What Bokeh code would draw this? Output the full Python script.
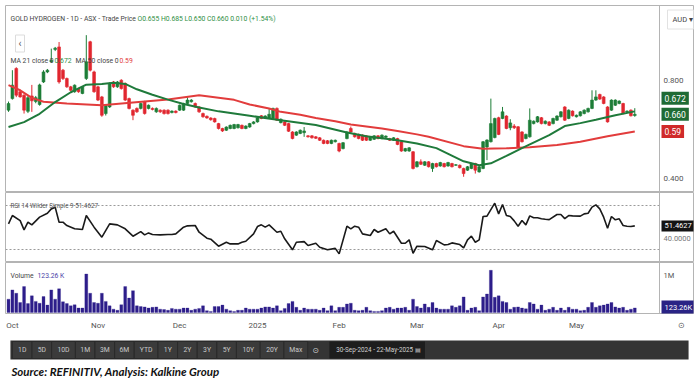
from bokeh.plotting import figure
from bokeh.layouts import column
from bokeh.models import ColumnDataSource, Range1d, Span, Label, FixedTicker
from bokeh.core.properties import value
from bokeh.embed import file_html
from bokeh.resources import INLINE

# ---------------- data ----------------
opens = [0.677, 0.724, 0.847, 0.752, 0.738, 0.672, 0.735, 0.712, 0.700, 0.792,
         0.833, 0.875, 0.925, 0.935, 0.840, 0.806, 0.772, 0.752, 0.765, 0.745,
         0.806, 0.956, 0.833, 0.772, 0.731, 0.663, 0.690, 0.792, 0.772, 0.799,
         0.786, 0.724, 0.677, 0.684, 0.684, 0.711, 0.684, 0.684, 0.670, 0.677,
         0.677, 0.677, 0.667, 0.673, 0.677, 0.677, 0.704, 0.711, 0.704, 0.690,
         0.663, 0.652, 0.645, 0.643, 0.622,
         0.602, 0.595, 0.602, 0.602, 0.605, 0.615, 0.602, 0.608, 0.622, 0.629,
         0.654, 0.645, 0.645, 0.643, 0.684, 0.626, 0.629, 0.622, 0.588, 0.575,
         0.582, 0.585, 0.572, 0.572, 0.568, 0.564, 0.554, 0.552, 0.541, 0.548,
         0.541, 0.520, 0.561, 0.602, 0.582, 0.578, 0.575, 0.572, 0.554, 0.558,
         0.572, 0.561, 0.566, 0.561, 0.554, 0.561, 0.548, 0.510, 0.510, 0.507,
         0.446, 0.466, 0.452, 0.466, 0.439,
         0.459, 0.449, 0.459, 0.449, 0.459, 0.452, 0.452, 0.439, 0.432, 0.439,
         0.459, 0.425, 0.439, 0.527, 0.548, 0.565, 0.646, 0.643, 0.653, 0.605,
         0.612, 0.609, 0.588, 0.561, 0.568, 0.622, 0.629, 0.646, 0.622, 0.629,
         0.622, 0.636, 0.650, 0.690, 0.643, 0.673, 0.650, 0.654, 0.663, 0.670,
         0.684, 0.718, 0.741, 0.731, 0.690, 0.677, 0.697, 0.704, 0.704, 0.670,
         0.677, 0.655]
highs = [0.712, 0.840, 0.852, 0.760, 0.742, 0.735, 0.780, 0.735, 0.785, 0.840,
         0.845, 0.928, 0.935, 0.955, 0.845, 0.810, 0.776, 0.782, 0.768, 0.775,
         0.983, 0.960, 0.838, 0.776, 0.735, 0.700, 0.790, 0.796, 0.796, 0.803,
         0.790, 0.728, 0.680, 0.688, 0.708, 0.715, 0.700, 0.688, 0.688, 0.680,
         0.680, 0.680, 0.676, 0.676, 0.700, 0.707, 0.730, 0.722, 0.708, 0.694,
         0.667, 0.655, 0.648, 0.646, 0.625,
         0.605, 0.611, 0.618, 0.621, 0.621, 0.618, 0.615, 0.625, 0.632, 0.648,
         0.657, 0.656, 0.684, 0.687, 0.688, 0.643, 0.632, 0.625, 0.591, 0.591,
         0.598, 0.608, 0.575, 0.575, 0.571, 0.567, 0.557, 0.555, 0.557, 0.557,
         0.544, 0.547, 0.591, 0.610, 0.585, 0.581, 0.578, 0.575, 0.571, 0.575,
         0.575, 0.578, 0.574, 0.564, 0.567, 0.564, 0.551, 0.523, 0.526, 0.510,
         0.469, 0.476, 0.469, 0.469, 0.462,
         0.462, 0.466, 0.462, 0.466, 0.462, 0.457, 0.455, 0.442, 0.449, 0.462,
         0.462, 0.449, 0.551, 0.558, 0.724, 0.646, 0.650, 0.690, 0.656, 0.640,
         0.620, 0.612, 0.591, 0.581, 0.684, 0.635, 0.653, 0.649, 0.635, 0.632,
         0.646, 0.656, 0.673, 0.693, 0.680, 0.676, 0.659, 0.673, 0.680, 0.687,
         0.758, 0.758, 0.744, 0.734, 0.693, 0.721, 0.721, 0.717, 0.707, 0.676,
         0.680, 0.685]
lows = [0.670, 0.720, 0.730, 0.728, 0.663, 0.665, 0.670, 0.705, 0.695, 0.788,
        0.828, 0.870, 0.918, 0.785, 0.800, 0.768, 0.754, 0.748, 0.748, 0.742,
        0.800, 0.835, 0.748, 0.714, 0.650, 0.655, 0.686, 0.768, 0.768, 0.761,
        0.714, 0.680, 0.636, 0.666, 0.680, 0.659, 0.680, 0.676, 0.666, 0.666,
        0.659, 0.659, 0.664, 0.664, 0.674, 0.674, 0.700, 0.708, 0.686, 0.666,
        0.646, 0.642, 0.634, 0.626, 0.598,
        0.588, 0.592, 0.599, 0.599, 0.602, 0.599, 0.599, 0.605, 0.619, 0.626,
        0.640, 0.642, 0.642, 0.640, 0.633, 0.623, 0.612, 0.588, 0.558, 0.572,
        0.579, 0.568, 0.565, 0.561, 0.559, 0.551, 0.538, 0.538, 0.538, 0.545,
        0.505, 0.517, 0.558, 0.585, 0.565, 0.558, 0.551, 0.551, 0.551, 0.555,
        0.558, 0.558, 0.563, 0.551, 0.551, 0.534, 0.507, 0.507, 0.507, 0.435,
        0.443, 0.453, 0.449, 0.443, 0.425,
        0.443, 0.446, 0.443, 0.446, 0.443, 0.449, 0.439, 0.405, 0.429, 0.436,
        0.418, 0.422, 0.436, 0.473, 0.545, 0.562, 0.575, 0.640, 0.599, 0.595,
        0.600, 0.524, 0.545, 0.558, 0.565, 0.619, 0.626, 0.619, 0.619, 0.612,
        0.619, 0.633, 0.647, 0.633, 0.640, 0.651, 0.647, 0.651, 0.660, 0.667,
        0.681, 0.715, 0.719, 0.701, 0.626, 0.674, 0.694, 0.701, 0.660, 0.667,
        0.651, 0.650]
closes = [0.704, 0.779, 0.738, 0.731, 0.677, 0.728, 0.715, 0.728, 0.780, 0.833,
          0.840, 0.880, 0.930, 0.792, 0.806, 0.772, 0.758, 0.779, 0.752, 0.772,
          0.874, 0.840, 0.752, 0.718, 0.656, 0.697, 0.786, 0.772, 0.792, 0.765,
          0.718, 0.684, 0.656, 0.670, 0.704, 0.663, 0.697, 0.680, 0.684, 0.670,
          0.663, 0.663, 0.673, 0.667, 0.697, 0.704, 0.718, 0.718, 0.690, 0.670,
          0.650, 0.645, 0.638, 0.629, 0.602,
          0.592, 0.608, 0.615, 0.618, 0.618, 0.602, 0.612, 0.622, 0.629, 0.645,
          0.643, 0.653, 0.660, 0.684, 0.636, 0.640, 0.615, 0.591, 0.561, 0.588,
          0.595, 0.592, 0.568, 0.564, 0.562, 0.554, 0.541, 0.541, 0.554, 0.554,
          0.510, 0.544, 0.588, 0.588, 0.568, 0.561, 0.554, 0.554, 0.568, 0.572,
          0.561, 0.575, 0.571, 0.554, 0.564, 0.537, 0.510, 0.520, 0.523, 0.439,
          0.466, 0.456, 0.466, 0.446, 0.459,
          0.446, 0.463, 0.446, 0.463, 0.446, 0.454, 0.442, 0.418, 0.446, 0.459,
          0.432, 0.446, 0.548, 0.555, 0.622, 0.643, 0.578, 0.670, 0.602, 0.625,
          0.605, 0.527, 0.548, 0.578, 0.636, 0.632, 0.650, 0.622, 0.632, 0.615,
          0.643, 0.653, 0.670, 0.636, 0.677, 0.654, 0.656, 0.670, 0.677, 0.684,
          0.718, 0.731, 0.722, 0.704, 0.629, 0.718, 0.718, 0.714, 0.663, 0.673,
          0.654, 0.660]
volumes_m = [0.36, 0.61, 0.52, 0.27, 0.70, 0.24, 0.45, 0.30, 0.25, 0.43,
             0.20, 0.61, 0.36, 0.64, 0.29, 0.24, 0.18, 0.21, 0.12, 0.12,
             1.04, 0.52, 0.27, 0.25, 0.52, 0.30, 0.18, 0.09, 0.06, 0.21,
             0.70, 0.39, 0.59, 0.18, 0.16, 0.15, 0.12, 0.14, 0.15, 0.09,
             0.08, 0.06, 0.11, 0.09, 0.09, 0.12, 0.12, 0.06, 0.09, 0.11,
             0.18, 0.05, 0.03, 0.16, 0.16, 0.20, 0.09, 0.05, 0.03, 0.06,
             0.06, 0.12, 0.09, 0.09, 0.09, 0.12, 0.15, 0.15, 0.12, 0.18,
             0.05, 0.11, 0.24, 0.30, 0.14, 0.06, 0.12, 0.09, 0.09, 0.09,
             0.06, 0.12, 0.05, 0.18, 0.05, 0.14, 0.14, 0.23,
             0.25, 0.06, 0.05, 0.06, 0.14, 0.05, 0.03, 0.03, 0.05, 0.12,
             0.14, 0.09, 0.12, 0.12, 0.14, 0.06, 0.36, 0.16, 0.12, 0.23,
             0.14, 0.27, 0.12, 0.09, 0.09, 0.09, 0.18, 0.14, 0.18, 0.42,
             0.06, 0.12, 0.14, 0.05, 0.42, 0.50, 1.14, 0.41, 0.45, 0.30,
             0.27, 0.09, 0.14, 0.15, 0.12, 0.10,
             0.27, 0.23, 0.09, 0.20, 0.06, 0.09, 0.14, 0.06, 0.12, 0.06,
             0.14, 0.09, 0.09, 0.05, 0.06, 0.14, 0.27, 0.14, 0.18, 0.20,
             0.23, 0.27, 0.15, 0.12, 0.14, 0.06, 0.09, 0.12326]
ma21_idx = [0, 4, 8, 12, 16, 20, 24, 27, 30, 33, 37, 41, 45, 49, 54, 62, 70, 79, 87,
            92, 100, 105, 110, 117, 121, 124, 128, 132, 139, 143, 147, 151, 156, 161]
ma21_val = [0.608, 0.628, 0.662, 0.710, 0.750, 0.781, 0.784, 0.789, 0.784, 0.762, 0.740,
            0.720, 0.702, 0.688, 0.672, 0.654, 0.636, 0.616, 0.586, 0.570, 0.554, 0.541,
            0.522, 0.468, 0.452, 0.460, 0.490, 0.522, 0.575, 0.612, 0.624, 0.638, 0.656, 0.672]
ma50_idx = [0, 3, 6, 9, 15, 24, 32, 41, 49, 54, 58, 62, 67, 70, 75, 79, 84, 88, 96,
            100, 105, 108, 117, 122, 128, 134, 141, 147, 154, 161]
ma50_val = [0.779, 0.758, 0.727, 0.711, 0.704, 0.697, 0.708, 0.720, 0.738, 0.728, 0.719,
            0.700, 0.684, 0.670, 0.658, 0.645, 0.632, 0.618, 0.602, 0.592, 0.578, 0.568,
            0.530, 0.519, 0.521, 0.526, 0.535, 0.548, 0.570, 0.590]
rsi_idx = [0, 1, 3, 4, 5, 6, 8, 10, 11, 12, 13, 14, 15, 17, 19, 20, 22, 24, 26, 28,
           30, 32, 34, 35, 36, 37, 39, 41, 42, 43, 45, 46, 48, 49, 51, 52, 54, 56, 57, 59,
           60, 61, 63, 64, 65, 66, 67, 69, 70, 71, 73, 74, 76, 77, 79, 80, 82, 84, 85, 87,
           88, 89, 90, 91, 93, 94, 95, 97, 98, 99, 101, 102, 103, 104, 105, 107, 109, 110,
           112, 113, 114, 116, 117, 118, 119, 120, 121, 122, 123, 125, 126, 127, 128, 129,
           130, 131, 132, 133, 134, 135, 136, 137, 138, 139, 141, 142, 143, 144, 145, 147,
           148, 149, 150, 151, 152, 153, 154, 155, 156, 157, 158, 159, 160, 161]
rsi_val = [53.3, 60.9, 56.3, 47.8, 54.8, 52.4, 59.4, 63.0, 66.9, 68.5, 54.8, 54.8, 51.8,
           48.8, 48.2, 60.9, 50.3, 41.2, 53.3, 52.4, 48.8, 42.1, 46.3, 43.3, 45.1, 43.6,
           43.3, 43.6, 43.6, 44.2, 50.3, 51.5, 51.8, 45.7, 40.3, 39.4, 33.0, 36.6, 35.1,
           35.1, 36.6, 37.5, 44.2, 50.9, 52.4, 50.3, 52.4, 45.7, 46.6, 39.7, 29.7, 36.6,
           37.2, 33.6, 35.7, 32.1, 29.7, 31.0, 26.0, 51.2, 48.8, 51.2, 50.3, 44.2, 42.7,
           48.2, 45.7, 48.8, 44.2, 46.6, 35.7, 35.7, 38.8, 26.6, 33.0, 32.7, 29.7, 38.2,
           34.2, 34.5, 36.0, 34.5, 31.5, 38.8, 42.1, 36.6, 38.8, 60.0, 60.3, 72.1, 62.4,
           70.9, 60.9, 60.0, 56.0, 51.2, 56.3, 52.4, 60.6, 58.8, 58.8, 57.9, 57.5, 57.2,
           61.8, 61.8, 58.1, 60.9, 60.6, 60.3, 62.4, 63.0, 68.5, 70.6, 66.9, 59.4, 49.4,
           60.0, 57.0, 57.9, 51.8, 51.2, 50.9, 51.4627]
rsi_levels = [70, 30]
month_ticks = [1, 23, 44, 64, 85, 105, 126, 146]
month_labels = ["Oct", "Nov", "Dec", "2025", "Feb", "Mar", "Apr", "May"]
price_ticks = [0.8, 0.4]
price_tick_labels = ["0.800", "0.400"]
rsi_tick, rsi_tick_label = 40, "40.0000"
vol_tick, vol_tick_label = 1.0, "1M"
range_buttons = ["1D", "5D", "10D", "1M", "3M", "6M", "YTD", "1Y", "2Y", "3Y", "5Y", "10Y", "20Y", "Max"]
date_range_text = "30-Sep-2024 - 22-May-2025"
title_text = "GOLD HYDROGEN - 1D - ASX - Trade Price"
ohlc_text = "O0.655 H0.685 L0.650 C0.660 0.010 (+1.54%)"
ma21_last, ma50_last = 0.672, 0.59
rsi_last = 51.4627
vol_last_m = 0.12326
source_text = "Source: REFINITIV, Analysis: Kalkine Group"

# ---------------- layout / style (page pixels) ----------------
FONT = "Roboto"
UP, DN = "#1d7d37", "#e1262f"
MA21_C, MA50_C = "#1f7a3b", "#e23c3c"
VOL_C = "#2d1d8a"
GRID_C = "#b4b4b4"
W = 698
PX = 3.89                 # pixels per bar
XL, XR = 5, 693           # frame edges (page x)


def bx(px):               # page x -> bar coordinate
    return (px - 8) / PX


X0, X1 = bx(XL), bx(XR)
SEP = bx(659)


def py(y):                # page y -> price (price panel)
    return 0.4 + (177.5 - y) / 245.0


def ry(y):                # page y -> RSI
    return 30 + (249 - y) / 1.1


def vy(y):                # page y -> volume (millions)
    return (312 - y) / 37.0


xr = Range1d(X0, X1)


def panel(h, y0, y1, axis=None, top=0, bottom=0):
    f = figure(width=W, height=h, x_range=xr, y_range=Range1d(y0, y1),
               output_backend="svg", toolbar_location=None,
               x_axis_location=axis, y_axis_location=None,
               min_border=0, min_border_left=XL, min_border_right=W - XR,
               min_border_top=top, min_border_bottom=bottom,
               outline_line_color=GRID_C, outline_line_width=1,
               background_fill_color="white", border_fill_color="white")
    f.grid.visible = False
    f.add_layout(Span(location=SEP, dimension="height", line_color=GRID_C, line_width=1))
    return f


def lab(fig, x, y, text, size="7px", color="#4a4a4a", bg=None, border=None, pad=0,
        style="normal", font=FONT, align="left"):
    fig.add_layout(Label(x=x, y=y, text=text, text_font=font, text_font_size=size,
                         text_color=color, text_align=align, text_baseline="middle",
                         text_font_style=style, background_fill_color=bg,
                         border_line_color=border, padding=pad))


idx = list(range(len(closes)))
src = ColumnDataSource(dict(
    x=idx, high=highs, low=lows,
    top=[max(o, c) for o, c in zip(opens, closes)],
    bottom=[min(o, c) for o, c in zip(opens, closes)],
    color=[UP if c >= o else DN for o, c in zip(opens, closes)],
    vol=volumes_m))

# ---- price panel (frame page y 5..192)
pp = panel(192, py(192), py(5), top=5)
pp.segment("x", "high", "x", "low", source=src, line_color="color", line_width=1)
pp.vbar(x="x", width=0.72, top="top", bottom="bottom", source=src,
        fill_color="color", line_color="color", line_width=0.6)
pp.line(ma50_idx, ma50_val, line_color=MA50_C, line_width=2)
pp.line(ma21_idx, ma21_val, line_color=MA21_C, line_width=2)
lab(pp, bx(10), py(18), title_text, size="6.8px", color="#444")
lab(pp, bx(137), py(18), ohlc_text, size="6.8px", color="#2f8f45")
lab(pp, bx(15), py(43), "\u2039", size="10px", color="#555", bg="white", border="#dcdcdc", pad=3)
lab(pp, bx(10), py(60), "MA 21 close 0", size="6.8px", color="#444")
lab(pp, bx(54), py(60), f"{ma21_last:.3f}", size="6.8px", color="#2f8f45")
lab(pp, bx(75), py(60), "MA 50 close 0", size="6.8px", color="#444")
lab(pp, bx(119), py(60), f"{ma50_last:.2f}", size="6.8px", color="#e23c3c")
for t, tl in zip(price_ticks, price_tick_labels):
    lab(pp, bx(663), t, tl, size="8px", color="#555")
lab(pp, bx(667), py(19), "AUD   \u25be", size="7.5px", color="#444", bg="white", border="#e2e2e2", pad=5)
lab(pp, bx(661), closes[-1] + 16 / 245.0, f"{ma21_last:.3f}", size="8.5px", color="white", bg="#1e6b34", pad=3)
lab(pp, bx(661), closes[-1], f"{closes[-1]:.3f}", size="8.5px", color="white", bg="#1e6b34", pad=3)
lab(pp, bx(661), ma50_last, f"{ma50_last:.2f}", size="8.5px", color="white", bg="#d02a2a", pad=3)

# ---- RSI panel (page y 192..262)
rp = panel(70, ry(262), ry(192))
rp.segment(x0=[X0] * 2, y0=rsi_levels, x1=[SEP] * 2, y1=rsi_levels,
           line_color="#9a9a9a", line_dash="2 2", line_width=1)
rp.line(rsi_idx, rsi_val, line_color="#1a1a1a", line_width=1.6)
lab(rp, bx(10), ry(205), f"RSI 14 Wilder Simple 9  {rsi_last:.4f}", size="6.3px", color="#555")
lab(rp, bx(663), rsi_tick, rsi_tick_label, size="7.5px", color="#777")
lab(rp, bx(661), rsi_last, f"{rsi_last:.4f}", size="7.5px", color="white", bg="#141414", pad=3)

# ---- volume panel (page y 262..313, date axis below to 339)
vp = panel(77, vy(313), vy(262), axis="below", bottom=26)
vp.vbar(x="x", width=0.75, top="vol", bottom=0, source=src, fill_color=VOL_C, line_color=VOL_C, line_width=0.3)
lab(vp, bx(10), vy(275), "Volume", size="6.8px", color="#444")
lab(vp, bx(37), vy(275), f"{vol_last_m * 1000:.2f} K", size="6.8px", color="#4b3fa8")
lab(vp, bx(663), vol_tick, vol_tick_label, size="7.5px", color="#555")
lab(vp, bx(661), vol_last_m, f"{vol_last_m * 1000:.2f}K", size="7.5px", color="white", bg="#2a2385", pad=3)
ax = vp.xaxis[0]
ax.ticker = FixedTicker(ticks=month_ticks + [173])
ax.major_label_overrides = {**{t: l for t, l in zip(month_ticks, month_labels)}, 173: "\u2299"}
ax.major_tick_line_color = None
ax.major_tick_out = 0
ax.major_tick_in = 0
ax.minor_tick_line_color = None
ax.axis_line_color = None
ax.major_label_standoff = 7
ax.major_label_text_font = FONT
ax.major_label_text_font_size = "8px"
ax.major_label_text_color = "#555"

# ---- footer: range toolbar + source (page y 339..388)
FH = 49
ft = figure(width=W, height=FH, x_range=Range1d(0, W), y_range=Range1d(FH, 0),
            output_backend="svg", toolbar_location=None, x_axis_location=None,
            y_axis_location=None, min_border=0, outline_line_color=None,
            background_fill_color="white", border_fill_color="white")
ft.grid.visible = False
ft.quad(left=[5], right=[693], top=[1], bottom=[20], fill_color="#343434", line_color=None)
widths = [11.5 + 4.2 * len(b) for b in range_buttons]
edges = [0.0]
for wd in widths:
    edges.append(edges[-1] + wd)
start = 7.0
lefts = [start + e for e in edges[:-1]]
rights = [start + e for e in edges[1:]]
ft.quad(left=lefts, right=rights, top=[2] * len(lefts), bottom=[19] * len(lefts),
        fill_color="#3b3b3b", line_color="#2a2a2a", line_width=1)
ft.text(x=[(a + b) / 2 for a, b in zip(lefts, rights)], y=[10.5] * len(lefts), text=range_buttons,
        text_align="center", text_baseline="middle", text_font=value(FONT),
        text_font_size="6.8px", text_color="#c9c9c9")
ft.text(x=[rights[-1] + 8], y=[10.5], text=["\u2299"], text_align="center", text_baseline="middle",
        text_font=value("DejaVu Sans"), text_font_size="8px", text_color="#c9c9c9")
ft.quad(left=[rights[-1] + 22], right=[rights[-1] + 119], top=[2], bottom=[19],
        fill_color="#1d1d1d", line_color=None)
ft.text(x=[rights[-1] + 29], y=[10.5], text=[date_range_text + "  \u25a4"], text_align="left",
        text_baseline="middle", text_font=value(FONT), text_font_size="6.3px", text_color="#d0d0d0")
ft.add_layout(Label(x=6, y=32, text=source_text, text_font="Lato", text_font_size="11.5px",
                    text_font_style="bold italic", text_color="#111", text_baseline="middle"))

layout = column(pp, rp, vp, ft, spacing=0)
open("out.html", "w").write(file_html(layout, INLINE))
